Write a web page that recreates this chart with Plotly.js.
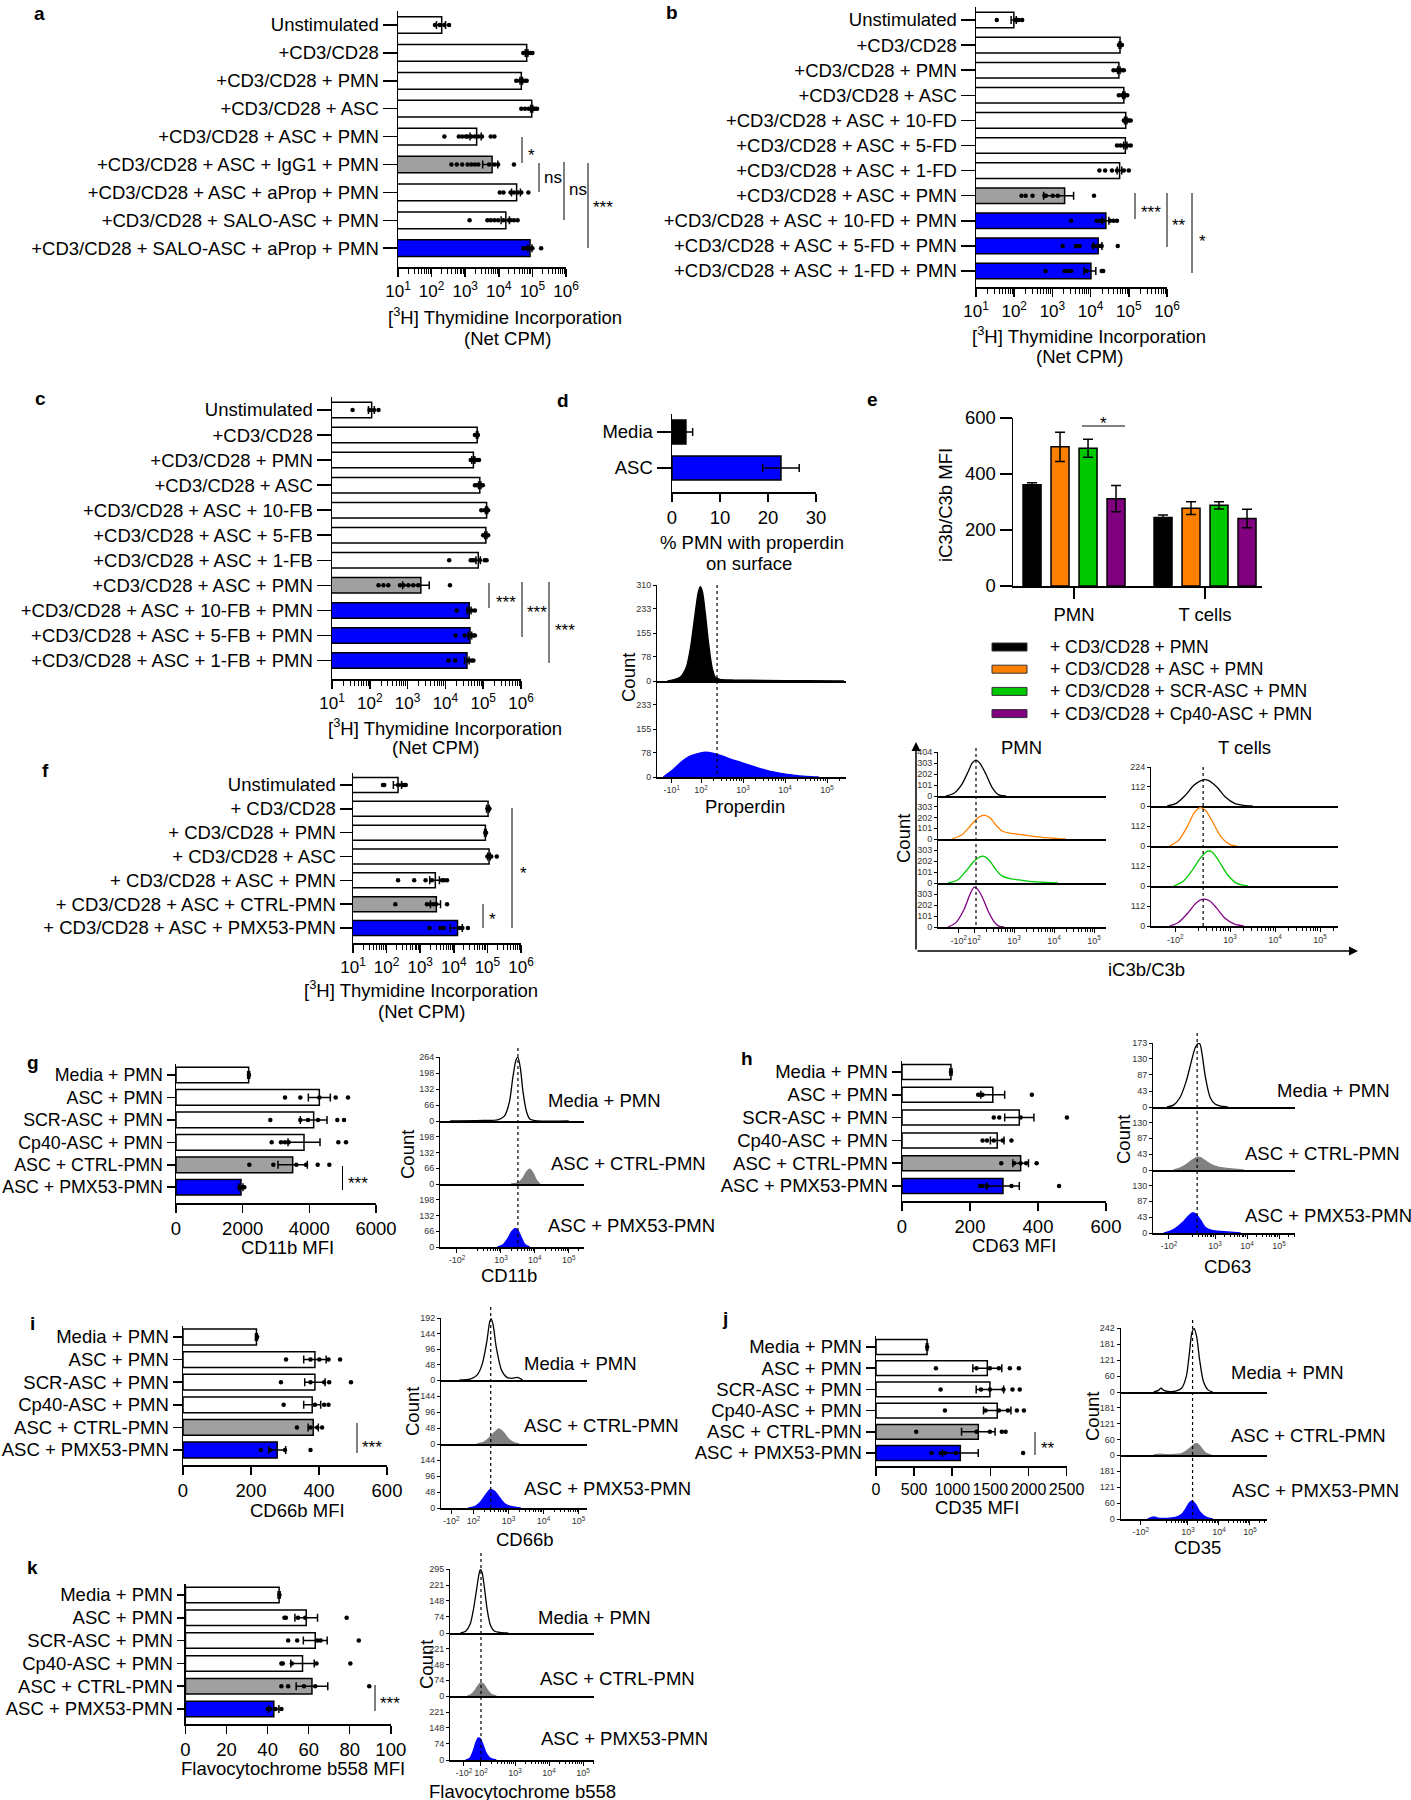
<!DOCTYPE html>
<html><head><meta charset="utf-8">
<script src="https://cdn.plot.ly/plotly-3.0.1.min.js"></script>
<style>body{margin:0;background:#fff}#chart{width:1411px;height:1800px}</style>
</head><body><div id="chart"></div>
<script>
// ================= DATA =================
// Panel a  ([3H] thymidine, net CPM)
const aLabels = ['Unstimulated','+CD3/CD28','+CD3/CD28 + PMN','+CD3/CD28 + ASC','+CD3/CD28 + ASC + PMN','+CD3/CD28 + ASC + IgG1 + PMN','+CD3/CD28 + ASC + aProp + PMN','+CD3/CD28 + SALO-ASC + PMN','+CD3/CD28 + SALO-ASC + aProp + PMN'];
const aMean = [200, 67600, 46800, 95500, 2190, 6310, 33900, 16200, 85100];
const aSem = [60, 6000, 4000, 7000, 800, 3000, 10000, 4500, 12000];
const aDots = [[126,174,240,331],[53700,60300,74100,87100,100000],[33100,42700,50100,60300,67600],[46800,60300,77600,100000,109600,123000,138000],[240,646,813,1047,1175,1514,1950,2455,3162,5754,7413],[389,562,813,1175,1514,1950,2455,5129,7413,9550,28200],[10700,13800,22400,28200,36300,46800,75900],[1349,4571,5754,7413,9550,13800,19950,22400,28200,36300],[53700,63100,77600,100000,182000]];

// Panel b
const bLabels = ['Unstimulated','+CD3/CD28','+CD3/CD28 + PMN','+CD3/CD28 + ASC','+CD3/CD28 + ASC + 10-FD','+CD3/CD28 + ASC + 5-FD','+CD3/CD28 + ASC + 1-FD','+CD3/CD28 + ASC + PMN','+CD3/CD28 + ASC + 10-FD + PMN','+CD3/CD28 + ASC + 5-FD + PMN','+CD3/CD28 + ASC + 1-FD + PMN'];
const bMean = [98, 58900, 55000, 74100, 83200, 81300, 57500, 2090, 25100, 15800, 10200];
const bSem = [15, 3000, 4000, 5000, 6000, 8000, 8000, 1500, 5000, 4000, 3500];
const bDots = [[35,107,120,132,162],[55000,60300,66100],[39800,49000,55000,66100,74100],[55000,66100,74100,81300,91200],[74100,81300,91200,100000,112200],[49000,60300,74100,91200,112200],[17000,24000,36300,49000,74100,100000],[155,200,302,617,676,1023,1380,12300],[3090,14450,17800,21400,32400,39800,49000],[1862,4169,5129,11750,14450,17800,19500,51300],[661,2089,2512,3090,7762,19500,21400]];

// Panel c
const cLabels = ['Unstimulated','+CD3/CD28','+CD3/CD28 + PMN','+CD3/CD28 + ASC','+CD3/CD28 + ASC + 10-FB','+CD3/CD28 + ASC + 5-FB','+CD3/CD28 + ASC + 1-FB','+CD3/CD28 + ASC + PMN','+CD3/CD28 + ASC + 10-FB + PMN','+CD3/CD28 + ASC + 5-FB + PMN','+CD3/CD28 + ASC + 1-FB + PMN'];
const cMean = [112, 69200, 55000, 81300, 123000, 117500, 74100, 2240, 42700, 44700, 37200];
const cSem = [20, 3000, 5000, 6000, 8000, 8000, 10000, 1500, 5000, 5000, 5000];
const cDots = [[35,98,129,170],[60300,66100,72400],[46800,52500,60300,69200,77600],[60300,69200,81300,89100,97700],[89100,109600,123000,134900],[100000,112200,123000,134900],[12600,46800,52500,60300,81300,109600,123000],[170,229,309,631,776,1047,1413,1905,13200],[19950,39800,49000,60300],[18600,32400,44700,55000,60300],[12000,18200,39800,49000,55000]];

// Panel d (bar)
const dLabels = ['Media', 'ASC'];
const dMean = [2.9, 22.7];
const dSem = [1.4, 3.8];
// Panel d histograms (x in decades of the display scale, y = count)
const dMediaU = [1.2,1.5,1.65,1.75,1.85,1.93,1.98,2.03,2.1,2.18,2.26,2.34,2.45,2.8,3.5,4.5,5.4];
const dMediaC = [0,12,45,110,210,285,305,290,220,120,45,12,5,3,2,1,0];
const dAscU = [1.1,1.3,1.5,1.7,1.9,2.1,2.3,2.5,2.7,3.0,3.3,3.6,3.9,4.2,4.5,4.8];
const dAscC = [0,20,45,65,75,80,76,68,58,45,32,20,12,6,2,0];

// Panel e (grouped bars)
const eGroups = ['PMN', 'T cells'];
const eSeries = ['+ CD3/CD28 + PMN', '+ CD3/CD28 + ASC + PMN', '+ CD3/CD28 + SCR-ASC + PMN', '+ CD3/CD28 + Cp40-ASC + PMN'];
const eBlack = [362, 245], eBlackSem = [7, 9];
const eOrange = [497, 278], eOrangeSem = [52, 23];
const eGreen = [492, 288], eGreenSem = [32, 13];
const ePurple = [312, 241], ePurpleSem = [47, 33];
// Panel e histograms
const ePmnBlackU = [1.3,1.5,1.7,1.85,1.95,2.05,2.15,2.3,2.45,2.62,2.8];
const ePmnBlackC = [0,25,110,220,300,330,300,200,80,10,0];
const ePmnOrangeU = [1.45,1.7,1.9,2.1,2.25,2.4,2.55,2.7,2.9,3.2,3.5,3.8,4.1,4.3];
const ePmnOrangeC = [0,40,120,200,225,200,130,75,55,40,25,12,4,0];
const ePmnGreenU = [1.35,1.6,1.8,2.0,2.15,2.25,2.4,2.55,2.7,2.9,3.2,3.5,3.8,4.1];
const ePmnGreenC = [0,30,110,200,240,245,200,120,65,40,25,12,5,0];
const ePmnPurpleU = [1.35,1.55,1.75,1.9,2.0,2.08,2.2,2.35,2.5,2.62,2.75];
const ePmnPurpleC = [0,40,160,300,365,350,280,150,50,8,0];
const eTBlackU = [1.6,1.8,2.0,2.2,2.4,2.5,2.7,2.9,3.1,3.3,3.5];
const eTBlackC = [0,15,60,120,150,148,110,50,15,4,0];
const eTOrangeU = [1.65,1.85,2.05,2.2,2.33,2.45,2.6,2.8,3.0,3.15];
const eTOrangeC = [0,30,110,185,215,200,140,50,8,0];
const eTGreenU = [1.75,1.95,2.15,2.35,2.5,2.6,2.75,2.95,3.15,3.4];
const eTGreenC = [0,25,85,160,195,190,140,60,15,0];
const eTPurpleU = [1.65,1.85,2.05,2.25,2.4,2.55,2.7,2.9,3.1,3.3];
const eTPurpleC = [0,20,70,130,150,140,100,40,10,0];

// Panel f
const fLabels = ['Unstimulated','+ CD3/CD28','+ CD3/CD28 + PMN','+ CD3/CD28 + ASC','+ CD3/CD28 + ASC + PMN','+ CD3/CD28 + ASC + CTRL-PMN','+ CD3/CD28 + ASC + PMX53-PMN'];
const fMean = [219, 104700, 87100, 112200, 2820, 3020, 12900];
const fSem = [60, 10000, 5000, 10000, 900, 1000, 5000];
const fDots = [[78,85,219,288,330,372],[100000,107000,115000],[87100,91200],[100000,112200,130000,190500],[219,661,1445,2239,4467,5129,6310],[182,1585,2000,2500,3020,6310],[1905,3981,5012,15000,18000,26300]];

// Panels g-k (MFI)
const mfiLabels = ['Media + PMN','ASC + PMN','SCR-ASC + PMN','Cp40-ASC + PMN','ASC + CTRL-PMN','ASC + PMX53-PMN'];
const histLabels = ['Media + PMN','ASC + CTRL-PMN','ASC + PMX53-PMN'];
const gMean = [2180, 4300, 4130, 3840, 3500, 1950];
const gSem = [30, 330, 400, 480, 440, 60];
const gDots = [[2190],[3270,3730,4300,4790,5160],[2830,3730,3960,4260,4840,5040],[2870,3150,3270,3380,4870,5100],[2200,2920,3610,3900,4250,4600],[1900,1980,2050]];
const hMean = [144, 267, 345, 280, 349, 297];
const hSem = [3, 35, 43, 20, 23, 48];
const hDots = [[144],[224,230,237,382],[270,286,349,485],[237,250,270,296,322],[292,330,349,365,396],[230,237,250,322,462]];
const iMean = [216, 388, 388, 380, 383, 277];
const iSem = [3, 33, 30, 25, 15, 25];
const iDots = [[218],[303,375,401,428,462],[288,375,415,430,494],[296,388,415,428],[335,375,395,409],[229,256,300,375]];
const jMean = [670, 1460, 1494, 1590, 1342, 1106];
const jSem = [10, 190, 180, 180, 220, 235];
const jDots = [[672],[786,1318,1494,1612,1756,1874],[847,1377,1494,1672,1790,1885],[904,1436,1612,1730,1848,1940],[528,1318,1494,1650,1700],[729,847,904,1048,1930]];
const kMean = [45.6, 58.8, 63.2, 57, 61.6, 43];
const kSem = [0.5, 5.5, 5.8, 5.7, 7.7, 2.5];
const kDots = [[45.8],[48.2,48.9,54.8,58.3,78.5],[50,54.4,64.3,65.8,84.4],[46.7,47.4,51.8,63.8,80.3],[46.7,50,57.7,63.2,89.5],[40.1,41.2,43.9,46.7]];

// Histograms g-k: [Media, CTRL, PMX53]
const gMediaU = [1.5,2.5,2.9,3.1,3.25,3.35,3.45,3.5,3.57,3.65,3.75,3.85,4.0,5.0];
const gMediaC = [0,2,5,20,80,180,255,262,220,120,40,8,2,0];
const gCtrlU = [3.3,3.5,3.65,3.75,3.85,3.95,4.05,4.15];
const gCtrlC = [0,5,25,50,62,45,15,0];
const gPmxU = [2.9,3.05,3.2,3.32,3.42,3.5,3.6,3.7,3.85];
const gPmxC = [0,8,35,65,78,70,40,12,0];
const hMediaU = [1.5,1.7,1.9,2.1,2.25,2.38,2.48,2.53,2.6,2.7,2.85,3.0,3.15,3.4];
const hMediaC = [0,5,25,70,120,160,172,170,140,80,25,8,3,0];
const hCtrlU = [1.7,1.9,2.1,2.3,2.45,2.55,2.7,2.9,3.1,3.3,3.6,3.9];
const hCtrlC = [0,5,15,28,35,34,25,14,8,5,2,0];
const hPmxU = [1.4,1.6,1.8,2.0,2.15,2.3,2.4,2.55,2.7,2.9,3.1,3.4,3.8];
const hPmxC = [0,5,15,30,45,55,52,35,15,7,5,3,0];
const iMediaU = [1.6,1.9,2.1,2.25,2.38,2.46,2.5,2.56,2.65,2.8,2.95,3.1,3.25,3.4];
const iMediaC = [0,3,15,50,120,180,190,170,100,30,8,5,8,0];
const iCtrlU = [2.1,2.3,2.45,2.6,2.72,2.85,3.0,3.15,3.3];
const iCtrlC = [0,6,18,35,45,35,15,4,0];
const iPmxU = [1.85,2.05,2.2,2.35,2.48,2.6,2.75,2.9,3.1,3.35];
const iPmxC = [0,5,18,40,56,50,30,12,4,0];
const jMediaU = [1.9,2.05,2.13,2.22,2.35,2.6,2.8,2.95,3.05,3.13,3.2,3.28,3.38,3.5,3.65,3.8];
const jMediaC = [0,6,15,6,2,3,15,60,150,225,240,210,120,40,8,0];
const jCtrlU = [1.9,2.1,2.3,2.6,2.8,2.95,3.1,3.2,3.3,3.4,3.55,3.75];
const jCtrlC = [0,3,1,2,5,15,30,40,44,32,10,0];
const jPmxU = [1.7,1.9,2.05,2.2,2.4,2.6,2.8,2.95,3.05,3.15,3.25,3.4,3.6,3.8];
const jPmxC = [0,8,3,2,3,6,18,42,62,68,55,25,6,0];
const kMediaU = [1.4,1.55,1.68,1.78,1.87,1.94,1.98,2.03,2.1,2.18,2.28,2.4,2.55,2.8];
const kMediaC = [0,8,40,110,200,270,292,280,210,110,35,8,3,0];
const kCtrlU = [1.6,1.72,1.82,1.92,2.0,2.08,2.18,2.3,2.45];
const kCtrlC = [0,8,25,50,62,55,30,8,0];
const kPmxU = [1.55,1.68,1.78,1.86,1.92,1.98,2.06,2.16,2.28,2.45];
const kPmxC = [0,10,45,85,102,98,70,30,8,0];

// Tick labels
const logTickVals = [10, 100, 1000, 10000, 100000, 1000000];
const logTickText = ['10<sup>1</sup>','10<sup>2</sup>','10<sup>3</sup>','10<sup>4</sup>','10<sup>5</sup>','10<sup>6</sup>'];
const S = n => '10<sup>' + n + '</sup>';
const NS = n => '-10<sup>' + n + '</sup>';

// ================= LAYOUT HELPERS =================
const W = 1411, H = 1800;
const FONT = 'Liberation Sans, Arial, sans-serif';
const BLUE = '#0000FF', GRAY = '#A0A0A0', WHITE = '#FFFFFF';
const ORANGE = '#FF8000', GREEN = '#00C800', PURPLE = '#800080';
const data = [], shapes = [], annotations = [];
const layout = {width: W, height: H, margin: {l: 0, r: 0, t: 0, b: 0}, paper_bgcolor: '#fff', plot_bgcolor: 'rgba(0,0,0,0)',
  showlegend: false, barmode: 'overlay', hovermode: false, font: {family: FONT, size: 18, color: '#000'}, shapes, annotations};
const X = x => x / W, Y = y => 1 - y / H;

const logMinor = [];
for (let n = 1; n <= 5; n++) for (let k = 2; k <= 9; k++) logMinor.push(k * Math.pow(10, n));
const histMinor = [];
for (let n = 2; n <= 5; n++) for (let k = 2; k <= 9; k++) histMinor.push(n + Math.log10(k));

let nAx = 0;
function axes(x0, x1, y0, y1, xo, yo) {
  nAx++;
  const s = nAx === 1 ? '' : String(nAx);
  layout['xaxis' + s] = Object.assign({domain: [x0 / W, x1 / W], anchor: 'y' + s, showgrid: false, zeroline: false, fixedrange: true}, xo);
  layout['yaxis' + s] = Object.assign({domain: [1 - y1 / H, 1 - y0 / H], anchor: 'x' + s, showgrid: false, zeroline: false, fixedrange: true}, yo);
  return {x: 'x' + s, y: 'y' + s};
}
function seg(x0, y0, x1, y1, w, dash) {
  shapes.push({type: 'line', xref: 'paper', yref: 'paper', x0: X(x0), y0: Y(y0), x1: X(x1), y1: Y(y1), line: {color: '#000', width: w || 1, dash: dash || 'solid'}});
}
function txt(x, y, s, o) {
  annotations.push(Object.assign({xref: 'paper', yref: 'paper', x: X(x), y: Y(y), text: s, showarrow: false,
    font: {family: FONT, size: 18.5, color: '#000'}, xanchor: 'center', yanchor: 'middle'}, o || {}));
}
function sig(xl, yt, yb, label, tx, ty) {
  seg(xl, yt, xl, yb, 1);
  const star = label.indexOf('*') >= 0;
  txt(tx, ty + (star ? 5 : 0), label, {xanchor: 'left', font: {family: FONT, size: 17, color: '#000'}});
}

function hbar(p) {
  const xo = p.log ? {type: 'log', range: [1, 6], tickmode: 'array', tickvals: logTickVals, ticktext: logTickText,
      minor: {tickmode: 'array', tickvals: logMinor, ticks: 'outside', ticklen: 5, tickwidth: 1, tickcolor: '#000'}}
    : {type: 'linear', range: p.xrange, tickmode: 'array', tickvals: p.xticks, ticktext: p.xticks.map(String)};
  Object.assign(xo, {showline: true, linecolor: '#000', linewidth: 1.5, ticks: 'outside', ticklen: 8, tickwidth: 1.5,
    tickcolor: '#000', tickangle: 0, tickfont: {family: FONT, size: p.xfont || 18.5, color: '#000'}});
  const yo = {type: 'category', categoryorder: 'array', categoryarray: p.labels, range: [(p.bot - p.c0) / p.s, -0.5],
    tickmode: 'linear', tick0: 0, dtick: 1, showline: true, linecolor: '#000', linewidth: 1.5, ticks: 'outside',
    ticklen: p.ticklen, tickwidth: 1.5, tickcolor: '#000', tickfont: {family: FONT, size: p.yfont || 18.5, color: '#000'}};
  const ax = axes(p.x0, p.x1, p.c0 - p.s / 2, p.bot, xo, yo);
  data.push({type: 'bar', orientation: 'h', x: p.mean, y: p.labels, width: p.barw,
    marker: {color: p.colors, line: {color: '#000', width: 1.5}},
    error_x: {type: 'data', array: p.sem, visible: true, color: '#000', thickness: 1.5, width: 4},
    xaxis: ax.x, yaxis: ax.y, hoverinfo: 'skip'});
  if (p.dots) {
    const dx = [], dy = [];
    p.dots.forEach((arr, i) => arr.forEach(v => { dx.push(v); dy.push(p.labels[i]); }));
    data.push({type: 'scatter', mode: 'markers', x: dx, y: dy, marker: {color: '#000', size: 4.5}, xaxis: ax.x, yaxis: ax.y, hoverinfo: 'skip'});
  }
  return ax;
}

function hstack(p) {
  const ids = [];
  const np = p.panels.length;
  p.panels.forEach((pb, k) => {
    const last = k === np - 1;
    const tv = k === 0 ? p.ytTop : p.ytOther;
    const xo = {range: p.urange, showline: true, linecolor: '#000', linewidth: p.baseW || 1.5,
      ticks: last ? 'outside' : '', ticklen: 4, tickwidth: 1, tickcolor: '#000', tickmode: 'array',
      tickvals: last ? p.xtv : [], ticktext: last ? p.xtt : [], showticklabels: last, tickangle: 0,
      tickfont: {family: FONT, size: 9, color: '#333'}};
    if (last) xo.minor = {tickmode: 'array', tickvals: histMinor, ticks: 'outside', ticklen: 2.5, tickwidth: 1, tickcolor: '#000'};
    const yo = {range: [0, p.ymax], showline: true, linecolor: '#000', linewidth: 1, ticks: 'outside', ticklen: 3,
      tickwidth: 1, tickcolor: '#000', tickmode: 'array', tickvals: tv, ticktext: tv.map(String),
      tickfont: {family: FONT, size: 9, color: '#333'}};
    const ax = axes(p.x0, p.x1, pb[0], pb[1], xo, yo);
    const cv = p.curves[k];
    data.push({type: 'scatter', mode: 'lines', x: cv.u, y: cv.c, xaxis: ax.x, yaxis: ax.y, hoverinfo: 'skip',
      line: {color: cv.line, width: 1.3, shape: 'spline', smoothing: 0.7},
      fill: cv.fill ? 'tozeroy' : 'none', fillcolor: cv.fill || 'rgba(0,0,0,0)'});
    ids.push(ax);
  });
  shapes.push({type: 'line', xref: ids[0].x, yref: 'paper', x0: p.dotU, x1: p.dotU, y0: Y(p.dotTop), y1: Y(p.panels[np - 1][1]),
    line: {color: '#000', width: 1.2, dash: 'dot'}});
  return ids;
}

// ================= PANELS =================
const LETTER = {family: FONT, size: 19, color: '#000'};
// a
hbar({labels: aLabels, mean: aMean, sem: aSem, dots: aDots, colors: [WHITE, WHITE, WHITE, WHITE, WHITE, GRAY, WHITE, WHITE, BLUE],
  log: true, x0: 398, x1: 566, c0: 25, s: 27.9, bot: 267, ticklen: 14, barw: 0.6, xfont: 17});
txt(39, 13, '<b>a</b>', {font: LETTER});
txt(505, 316, '[<sup>3</sup>H] Thymidine Incorporation');
txt(507, 338, '(Net CPM)');
sig(522, 137, 163, '*', 526, 150);
sig(539, 163, 192, 'ns', 542, 177);
sig(564, 162, 220, 'ns', 567, 190);
sig(588, 163, 248, '***', 591, 203);

// b
hbar({labels: bLabels, mean: bMean, sem: bSem, dots: bDots, colors: [WHITE, WHITE, WHITE, WHITE, WHITE, WHITE, WHITE, GRAY, BLUE, BLUE, BLUE],
  log: true, x0: 976, x1: 1167, c0: 20, s: 25.1, bot: 287, ticklen: 14, barw: 0.62, xfont: 17});
txt(672, 12, '<b>b</b>', {font: LETTER});
txt(1089, 335, '[<sup>3</sup>H] Thymidine Incorporation');
txt(1079, 356, '(Net CPM)');
sig(1135, 193, 219, '***', 1139, 208);
sig(1167, 193, 247, '**', 1170, 220);
sig(1192, 193, 273, '*', 1197, 236);

// c
hbar({labels: cLabels, mean: cMean, sem: cSem, dots: cDots, colors: [WHITE, WHITE, WHITE, WHITE, WHITE, WHITE, WHITE, GRAY, BLUE, BLUE, BLUE],
  log: true, x0: 332, x1: 521, c0: 410, s: 25.05, bot: 679, ticklen: 14, barw: 0.62, xfont: 17});
txt(40, 398, '<b>c</b>', {font: LETTER});
txt(445, 727, '[<sup>3</sup>H] Thymidine Incorporation');
txt(435, 747, '(Net CPM)');
sig(489, 583, 608, '***', 494, 597);
sig(522, 582, 637, '***', 525, 608);
sig(549, 582, 663, '***', 553, 625);

// d bar
hbar({labels: dLabels, mean: dMean, sem: dSem, colors: ['#000000', BLUE], log: false, xrange: [0, 30], xticks: [0, 10, 20, 30],
  x0: 672, x1: 816, c0: 432, s: 36, bot: 492, ticklen: 14, barw: 0.66});
txt(563, 400, '<b>d</b>', {font: LETTER});
txt(752, 542, '% PMN with properdin');
txt(749, 563, 'on surface');
// d histograms
hstack({x0: 657, x1: 846, urange: [0.95, 5.45], panels: [[585, 681], [681, 777]], ymax: 310,
  ytTop: [0, 78, 155, 233, 310], ytOther: [0, 78, 155, 233], xtv: [1.3, 2, 3, 4, 5], xtt: [NS(1), S(2), S(3), S(4), S(5)],
  dotU: 2.38, dotTop: 585,
  curves: [{u: dMediaU, c: dMediaC, line: '#000', fill: '#000'}, {u: dAscU, c: dAscC, line: BLUE, fill: BLUE}]});
txt(628, 678, 'Count', {textangle: -90});
txt(745, 807, 'Properdin');

// e bars
const eax = axes(1013, 1262, 418, 586,
  {range: [-0.466, 1.435], tickmode: 'array', tickvals: [0, 1], ticktext: eGroups, showline: true, linecolor: '#000', linewidth: 1.5,
    ticks: 'outside', ticklen: 11, tickwidth: 1.5, tickcolor: '#000', tickfont: {family: FONT, size: 18.5, color: '#000'}},
  {range: [0, 600], tickmode: 'array', tickvals: [0, 200, 400, 600], ticktext: ['0', '200', '400', '600'], showline: true,
    linecolor: '#000', linewidth: 1.5, ticks: 'outside', ticklen: 12, tickwidth: 1.5, tickcolor: '#000',
    tickfont: {family: FONT, size: 18.5, color: '#000'}});
const eVals = [eBlack, eOrange, eGreen, ePurple];
const eSems = [eBlackSem, eOrangeSem, eGreenSem, ePurpleSem];
const eCols = ['#000000', ORANGE, GREEN, PURPLE];
const slot = 28 / 131, bw = 18 / 131;
eVals.forEach((vals, s) => {
  data.push({type: 'bar', x: eGroups.map((g, i) => i + (s - 1.5) * slot), y: vals, width: bw,
    marker: {color: eCols[s], line: {color: '#000', width: 1.5}},
    error_y: {type: 'data', array: eSems[s], visible: true, color: '#000', thickness: 1.5, width: 5},
    xaxis: eax.x, yaxis: eax.y, hoverinfo: 'skip'});
});
txt(872, 399, '<b>e</b>', {font: LETTER});
txt(945, 505, 'iC3b/C3b MFI', {textangle: -90});
seg(1082, 426, 1125, 426, 1);
txt(1103, 424, '*', {font: {family: FONT, size: 17, color: '#000'}});
// legend
eSeries.forEach((name, s) => {
  const yy = 647 + s * 22.2;
  shapes.push({type: 'rect', xref: 'paper', yref: 'paper', x0: X(992), x1: X(1027), y0: Y(yy + 4), y1: Y(yy - 4),
    fillcolor: eCols[s], line: {color: '#333', width: 1}});
  txt(1048, yy, name, {xanchor: 'left', font: {family: FONT, size: 17.5, color: '#000'}});
});
// e histograms
hstack({x0: 938, x1: 1106, urange: [1.1, 5.3], panels: [[752, 796], [796, 839], [839, 883], [883, 927]], ymax: 404,
  ytTop: [0, 101, 202, 303, 404], ytOther: [0, 101, 202, 303], xtv: [1.62, 2, 3, 4, 5], xtt: [NS(2), S(2), S(3), S(4), S(5)],
  dotU: 2.05, dotTop: 748, baseW: 2,
  curves: [{u: ePmnBlackU, c: ePmnBlackC, line: '#000'}, {u: ePmnOrangeU, c: ePmnOrangeC, line: ORANGE},
    {u: ePmnGreenU, c: ePmnGreenC, line: GREEN}, {u: ePmnPurpleU, c: ePmnPurpleC, line: PURPLE}]});
hstack({x0: 1151, x1: 1338, urange: [1.24, 5.4], panels: [[767, 806], [806, 846], [846, 886], [886, 926]], ymax: 224,
  ytTop: [0, 112, 224], ytOther: [0, 112], xtv: [1.78, 3, 4, 5], xtt: [NS(2), S(3), S(4), S(5)],
  dotU: 2.4, dotTop: 767, baseW: 2,
  curves: [{u: eTBlackU, c: eTBlackC, line: '#000'}, {u: eTOrangeU, c: eTOrangeC, line: ORANGE},
    {u: eTGreenU, c: eTGreenC, line: GREEN}, {u: eTPurpleU, c: eTPurpleC, line: PURPLE}]});
txt(1021, 747, 'PMN');
txt(1244, 747, 'T cells');
txt(903, 839, 'Count', {textangle: -90});
txt(1146, 969, 'iC3b/C3b');
annotations.push({xref: 'paper', yref: 'paper', x: X(916), y: Y(742), ax: 0, ay: 209, showarrow: true, arrowhead: 2, arrowsize: 1.2,
  arrowwidth: 1.5, arrowcolor: '#000', text: ''});
annotations.push({xref: 'paper', yref: 'paper', x: X(1358), y: Y(951), ax: -442, ay: 0, showarrow: true, arrowhead: 2, arrowsize: 1.2,
  arrowwidth: 1.5, arrowcolor: '#000', text: ''});

// f
hbar({labels: fLabels, mean: fMean, sem: fSem, dots: fDots, colors: [WHITE, WHITE, WHITE, WHITE, WHITE, GRAY, BLUE],
  log: true, x0: 353, x1: 521, c0: 785, s: 23.83, bot: 943, ticklen: 12, barw: 0.63, xfont: 17});
txt(46, 770, '<b>f</b>', {font: LETTER});
txt(421, 989, '[<sup>3</sup>H] Thymidine Incorporation');
txt(421, 1012, '(Net CPM)');
sig(512, 808, 928, '*', 518, 868);
sig(483, 904, 928, '*', 487, 915);

// g - k
const mfiCols = [WHITE, WHITE, WHITE, WHITE, GRAY, BLUE];
function mfiStack(cfg, med, ctrl, pmx) {
  cfg.curves = [{u: med[0], c: med[1], line: '#000'}, {u: ctrl[0], c: ctrl[1], line: '#808080', fill: '#808080'},
    {u: pmx[0], c: pmx[1], line: BLUE, fill: BLUE}];
  return hstack(cfg);
}
// g
hbar({labels: mfiLabels, mean: gMean, sem: gSem, dots: gDots, colors: mfiCols, log: false, xrange: [0, 6000], xticks: [0, 2000, 4000, 6000],
  x0: 176, x1: 376, c0: 1075, s: 22.45, bot: 1203, ticklen: 8, barw: 0.7, yfont: 17.8});
txt(33, 1062, '<b>g</b>', {font: LETTER});
txt(287, 1247, 'CD11b MFI');
sig(342.5, 1166, 1190, '***', 346, 1178);
mfiStack({x0: 440, x1: 584, urange: [1.2, 5.45], panels: [[1057, 1121], [1121, 1184], [1184, 1247]], ymax: 264,
  ytTop: [0, 66, 132, 198, 264], ytOther: [0, 66, 132, 198], xtv: [1.7, 3, 4, 5], xtt: [NS(2), S(3), S(4), S(5)], dotU: 3.5, dotTop: 1048},
  [gMediaU, gMediaC], [gCtrlU, gCtrlC], [gPmxU, gPmxC]);
txt(407, 1155, 'Count', {textangle: -90});
txt(509, 1275, 'CD11b');
txt(546, 1100, histLabels[0], {xanchor: 'left'});
txt(549, 1163, histLabels[1], {xanchor: 'left'});
txt(546, 1225, histLabels[2], {xanchor: 'left'});

// h
hbar({labels: mfiLabels, mean: hMean, sem: hSem, dots: hDots, colors: mfiCols, log: false, xrange: [0, 600], xticks: [0, 200, 400, 600],
  x0: 902, x1: 1106, c0: 1072, s: 22.8, bot: 1201, ticklen: 9, barw: 0.66});
txt(747, 1058, '<b>h</b>', {font: LETTER});
txt(1014, 1245, 'CD63 MFI');
mfiStack({x0: 1153, x1: 1295, urange: [1.06, 5.5], panels: [[1043, 1107], [1107, 1170], [1170, 1233]], ymax: 173,
  ytTop: [0, 43, 87, 130, 173], ytOther: [0, 43, 87, 130], xtv: [1.56, 3, 4, 5], xtt: [NS(2), S(3), S(4), S(5)], dotU: 2.44, dotTop: 1033},
  [hMediaU, hMediaC], [hCtrlU, hCtrlC], [hPmxU, hPmxC]);
txt(1123, 1140, 'Count', {textangle: -90});
txt(1227, 1266, 'CD63');
txt(1275, 1090, histLabels[0], {xanchor: 'left'});
txt(1243, 1153, histLabels[1], {xanchor: 'left'});
txt(1243, 1215, histLabels[2], {xanchor: 'left'});

// i
hbar({labels: mfiLabels, mean: iMean, sem: iSem, dots: iDots, colors: mfiCols, log: false, xrange: [0, 600], xticks: [0, 200, 400, 600],
  x0: 183, x1: 387, c0: 1337, s: 22.6, bot: 1465, ticklen: 9, barw: 0.7});
txt(32, 1323, '<b>i</b>', {font: LETTER});
txt(297, 1510, 'CD66b MFI');
sig(357, 1423, 1453, '***', 360, 1442);
mfiStack({x0: 441, x1: 587, urange: [1.07, 5.24], panels: [[1318, 1380], [1380, 1444], [1444, 1508]], ymax: 192,
  ytTop: [0, 48, 96, 144, 192], ytOther: [0, 48, 96, 144], xtv: [1.36, 2, 3, 4, 5], xtt: [NS(2), S(2), S(3), S(4), S(5)], dotU: 2.49, dotTop: 1307},
  [iMediaU, iMediaC], [iCtrlU, iCtrlC], [iPmxU, iPmxC]);
txt(412, 1412, 'Count', {textangle: -90});
txt(525, 1539, 'CD66b');
txt(522, 1363, histLabels[0], {xanchor: 'left'});
txt(522, 1425, histLabels[1], {xanchor: 'left'});
txt(522, 1488, histLabels[2], {xanchor: 'left'});

// j
hbar({labels: mfiLabels, mean: jMean, sem: jSem, dots: jDots, colors: mfiCols, log: false, xrange: [0, 2500], xticks: [0, 500, 1000, 1500, 2000, 2500],
  x0: 876, x1: 1066.6, c0: 1347, s: 21.2, bot: 1466, ticklen: 9, barw: 0.7, xfont: 16});
txt(725, 1318, '<b>j</b>', {font: LETTER});
txt(977, 1507, 'CD35 MFI');
sig(1035, 1432, 1455, '**', 1039, 1443);
mfiStack({x0: 1120.6, x1: 1267, urange: [0.83, 5.55], panels: [[1328, 1392], [1392, 1455], [1455, 1519]], ymax: 242,
  ytTop: [0, 60, 121, 181, 242], ytOther: [0, 60, 121, 181], xtv: [1.48, 3, 4, 5], xtt: [NS(2), S(3), S(4), S(5)], dotU: 3.15, dotTop: 1320},
  [jMediaU, jMediaC], [jCtrlU, jCtrlC], [jPmxU, jPmxC]);
txt(1092, 1417, 'Count', {textangle: -90});
txt(1197, 1547, 'CD35');
txt(1229, 1372, histLabels[0], {xanchor: 'left'});
txt(1229, 1435, histLabels[1], {xanchor: 'left'});
txt(1230, 1490, histLabels[2], {xanchor: 'left'});

// k
hbar({labels: mfiLabels, mean: kMean, sem: kSem, dots: kDots, colors: mfiCols, log: false, xrange: [0, 100], xticks: [0, 20, 40, 60, 80, 100],
  x0: 185.5, x1: 390.8, c0: 1595, s: 22.8, bot: 1724, ticklen: 7.5, barw: 0.68});
txt(32, 1567, '<b>k</b>', {font: LETTER});
txt(293, 1768, 'Flavocytochrome b558 MFI');
sig(375, 1685, 1711, '***', 378, 1698);
mfiStack({x0: 450, x1: 594, urange: [1.09, 5.32], panels: [[1569, 1633], [1633, 1696], [1696, 1760]], ymax: 295,
  ytTop: [0, 74, 148, 221, 295], ytOther: [0, 74, 148, 221], xtv: [1.5, 2, 3, 4, 5], xtt: [NS(2), S(2), S(3), S(4), S(5)], dotU: 2.0, dotTop: 1553},
  [kMediaU, kMediaC], [kCtrlU, kCtrlC], [kPmxU, kPmxC]);
txt(426, 1665, 'Count', {textangle: -90});
txt(522, 1791, 'Flavocytochrome b558');
txt(536, 1617, histLabels[0], {xanchor: 'left'});
txt(538, 1678, histLabels[1], {xanchor: 'left'});
txt(539, 1738, histLabels[2], {xanchor: 'left'});

Plotly.newPlot('chart', data, layout, {staticPlot: true, displayModeBar: false});
</script>
</body></html>
